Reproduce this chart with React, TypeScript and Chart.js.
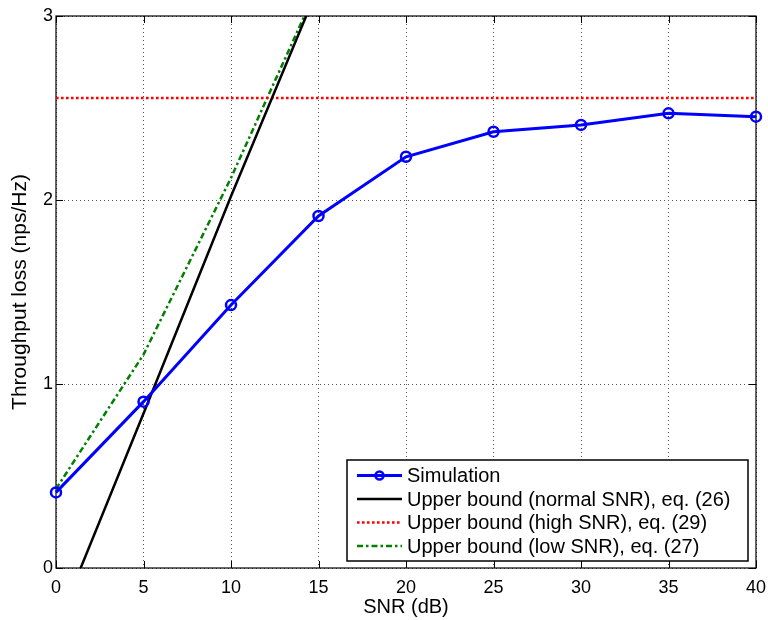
import React, { useEffect, useRef } from "react";
import { Chart, registerables } from "chart.js";

Chart.register(...registerables);

// ---- data ----
const snrDb = [0, 5, 10, 15, 20, 25, 30, 35, 40];
const simulation = [0.411, 0.904, 1.429, 1.913, 2.235, 2.371, 2.408, 2.471, 2.453];
const boundSnrDb = [0, 5, 10, 15];
const normalBound = [-0.33, 0.84, 2.02, 3.16];
const lowBound = [0.43, 1.16, 2.12, 3.17];
const highBoundSnrDb = [0, 40];
const highBound = [2.554, 2.554];
const xTickValues = [0, 5, 10, 15, 20, 25, 30, 35, 40];
const yTickValues = [0, 1, 2, 3];
const seriesLabels = [
  "Simulation",
  "Upper bound (normal SNR), eq. (26)",
  "Upper bound (high SNR), eq. (29)",
  "Upper bound (low SNR), eq. (27)",
];
const xTitle = "SNR (dB)";
const yTitle = "Throughput loss (nps/Hz)";

const FONT = "'Liberation Sans', Arial, Helvetica, sans-serif";

const toXY = (xs: number[], ys: number[]) => xs.map((x, i) => ({ x, y: ys[i] }));

const framePlugin = {
  id: "matlabFrame",
  beforeDatasetsDraw(chart: any) {
    const { ctx, chartArea: a, scales } = chart;
    ctx.save();
    ctx.strokeStyle = "#000";
    ctx.lineWidth = 1.2;
    ctx.setLineDash([]);
    ctx.strokeRect(a.left, a.top, a.right - a.left, a.bottom - a.top);
    const tl = 7;
    ctx.lineWidth = 1;
    ctx.beginPath();
    xTickValues.forEach((v) => {
      const px = Math.round(scales.x.getPixelForValue(v)) + 0.5;
      ctx.moveTo(px, a.bottom);
      ctx.lineTo(px, a.bottom - tl);
      ctx.moveTo(px, a.top);
      ctx.lineTo(px, a.top + tl);
    });
    yTickValues.forEach((v) => {
      const py = Math.round(scales.y.getPixelForValue(v)) + 0.5;
      ctx.moveTo(a.left, py);
      ctx.lineTo(a.left + tl, py);
      ctx.moveTo(a.right, py);
      ctx.lineTo(a.right - tl, py);
    });
    ctx.stroke();
    ctx.restore();
  },
};

const legendPlugin = {
  id: "insideLegend",
  afterDraw(chart: any) {
    const { ctx } = chart;
    const box = { x: 347, y: 460, w: 401, h: 101 };
    ctx.save();
    ctx.fillStyle = "#fff";
    ctx.fillRect(box.x, box.y, box.w, box.h);
    ctx.strokeStyle = "#000";
    ctx.lineWidth = 1.5;
    ctx.setLineDash([]);
    ctx.strokeRect(box.x, box.y, box.w, box.h);
    const rowY = [475.5, 499, 522.5, 546];
    chart.data.datasets.forEach((ds: any, i: number) => {
      const y = rowY[i];
      ctx.strokeStyle = ds.borderColor;
      ctx.lineWidth = ds.borderWidth;
      ctx.setLineDash(ds.borderDash || []);
      ctx.beginPath();
      ctx.moveTo(357, y);
      ctx.lineTo(402, y);
      ctx.stroke();
      if (ds.pointRadius > 0) {
        ctx.setLineDash([]);
        ctx.lineWidth = ds.pointBorderWidth;
        ctx.beginPath();
        ctx.arc(379.5, y, ds.pointRadius - 1, 0, Math.PI * 2);
        ctx.stroke();
      }
      ctx.setLineDash([]);
      ctx.fillStyle = "#000";
      ctx.font = `20px ${FONT}`;
      ctx.textBaseline = "middle";
      ctx.textAlign = "left";
      ctx.fillText(ds.label, 407, y + 1);
    });
    ctx.restore();
  },
};

export default function App() {
  const ref = useRef<HTMLCanvasElement | null>(null);
  useEffect(() => {
    document.body.style.margin = "0";
    const canvas = ref.current;
    if (!canvas) return;
    const chart = new Chart(canvas, {
      type: "line",
      data: {
        datasets: [
          {
            label: seriesLabels[0],
            data: toXY(snrDb, simulation),
            borderColor: "#0000ff",
            borderWidth: 3,
            pointRadius: 5,
            pointBorderWidth: 2.5,
            pointBackgroundColor: "rgba(0,0,0,0)",
            pointBorderColor: "#0000ff",
            pointStyle: "circle",
            clip: false,
          } as any,
          {
            label: seriesLabels[1],
            data: toXY(boundSnrDb, normalBound),
            borderColor: "#000000",
            borderWidth: 2.5,
            pointRadius: 0,
            clip: 0,
          },
          {
            label: seriesLabels[2],
            data: toXY(highBoundSnrDb, highBound),
            borderColor: "#ff0000",
            borderWidth: 2.5,
            borderDash: [2.6, 2.4],
            pointRadius: 0,
            clip: 0,
          },
          {
            label: seriesLabels[3],
            data: toXY(boundSnrDb, lowBound),
            borderColor: "#008000",
            borderWidth: 2.5,
            borderDash: [6, 3, 2.5, 3],
            pointRadius: 0,
            clip: 0,
          },
        ],
      },
      options: {
        responsive: false,
        animation: false,
        layout: { padding: { top: 16, right: 12, left: 0, bottom: 0 } },
        plugins: {
          legend: { display: false },
          tooltip: { enabled: false },
        },
        elements: { line: { tension: 0 } },
        scales: {
          x: {
            type: "linear",
            min: 0,
            max: 40,
            ticks: {
              stepSize: 5,
              color: "#000",
              font: { family: FONT, size: 18 },
              padding: 9,
              maxRotation: 0,
            },
            grid: { color: "#555", lineWidth: 1, drawTicks: false },
            border: { display: false, dash: [1, 3] },
            title: {
              display: true,
              text: xTitle,
              color: "#000",
              font: { family: FONT, size: 20 },
              padding: { top: 0, bottom: 1 },
            },
            afterFit(scale: any) {
              scale.height = 52;
              scale.paddingLeft = 0;
              scale.paddingRight = 0;
            },
          },
          y: {
            type: "linear",
            min: 0,
            max: 3,
            ticks: {
              stepSize: 1,
              color: "#000",
              font: { family: FONT, size: 18 },
              padding: 3,
            },
            grid: { color: "#555", lineWidth: 1, drawTicks: false },
            border: { display: false, dash: [1, 3] },
            title: {
              display: true,
              text: yTitle,
              color: "#000",
              font: { family: FONT, size: 21 },
              padding: { top: 8, bottom: 0 },
            },
            afterFit(scale: any) {
              scale.width = 56;
              scale.paddingTop = 0;
              scale.paddingBottom = 0;
            },
          },
        },
      } as any,
      plugins: [framePlugin, legendPlugin],
    });
    return () => chart.destroy();
  }, []);
  return (
    <div style={{ width: 768, height: 620 }}>
      <canvas ref={ref} width={768} height={620} />
    </div>
  );
}
